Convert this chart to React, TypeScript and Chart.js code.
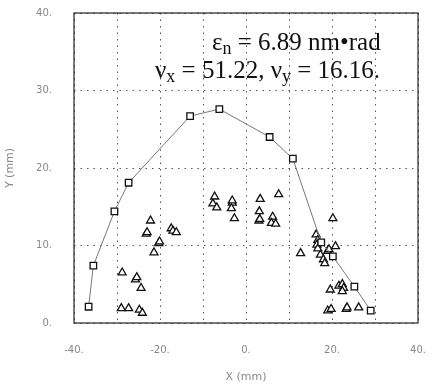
import React, { useEffect, useRef } from "react";
import { Chart, registerables } from "chart.js";

Chart.register(...registerables);

// Line series with square markers
const squareX = [-36.6, -35.5, -30.6, -27.3, -13.0, -6.2, 5.5, 10.9, 17.5, 20.2, 25.2, 29.0];
const squareY = [2.1, 7.4, 14.4, 18.1, 26.7, 27.6, 24.0, 21.2, 10.4, 8.6, 4.7, 1.6];

// Scatter points with triangle markers
const triX = [
  -22.2, -23.2, -23.0, -20.3, -20.1, -21.4, -17.4, -17.0, -16.2, -28.8, -25.7, -25.4, -24.4,
  -29.0, -27.3, -24.8, -24.1, -7.3, -7.7, -6.8, -3.2, -3.2, -3.4, -2.7, 3.3, 3.1, 3.0, 3.2,
  6.2, 5.9, 6.9, 7.6, 12.7, 16.3, 16.7, 16.5, 16.7, 19.0, 19.3, 20.8, 17.3, 18.0, 18.3, 20.2,
  19.6, 21.6, 22.4, 22.7, 22.4, 19.0, 19.8, 23.3, 23.5, 26.2,
];
const triY = [
  13.2, 11.5, 11.7, 10.3, 10.5, 9.1, 12.2, 11.9, 11.7, 6.5, 5.6, 5.9, 4.5,
  1.9, 1.9, 1.7, 1.3, 16.3, 15.4, 14.9, 15.5, 15.8, 14.8, 13.5, 16.0, 14.4, 13.2, 13.4,
  13.7, 12.9, 12.8, 16.6, 9.0, 11.4, 10.7, 10.1, 9.6, 9.3, 9.5, 9.9, 8.8, 8.2, 7.7, 13.5,
  4.3, 4.8, 5.0, 4.5, 4.1, 1.6, 1.8, 1.8, 2.0, 2.0,
];

const xTicks = [-40, -30, -20, -10, 0, 10, 20, 30, 40];
const xTickLabels = ["-40.", "", "-20.", "", "0.", "", "20.", "", "40."];
const yTicks = [0, 10, 20, 30, 40];
const yTickLabels = ["0.", "10.", "20.", "30.", "40."];

const xTitle = "X (mm)";
const yTitle = "Y (mm)";
const annotLine1 = { main: "ε", sub: "n", rest: " = 6.89 nm•rad" };
const annotLine2 = [
  { main: "ν", sub: "x", rest: " = 51.22, " },
  { main: "ν", sub: "y", rest: " = 16.16." },
];

const framePlugin = {
  id: "frameAndText",
  afterDraw(chart: any) {
    const { ctx, chartArea } = chart;
    ctx.save();
    ctx.strokeStyle = "#222";
    ctx.lineWidth = 1.2;
    ctx.strokeRect(chartArea.left, chartArea.top, chartArea.right - chartArea.left, chartArea.bottom - chartArea.top);

    const big = "25px 'Liberation Serif', 'DejaVu Serif', serif";
    const small = "18px 'Liberation Serif', 'DejaVu Serif', serif";
    ctx.fillStyle = "#111";
    ctx.textBaseline = "alphabetic";
    const drawPieces = (pieces: any[], x: number, y: number) => {
      let cx = x;
      for (const p of pieces) {
        ctx.font = big;
        ctx.fillText(p.main, cx, y);
        cx += ctx.measureText(p.main).width;
        ctx.font = small;
        ctx.fillText(p.sub, cx, y + 4);
        cx += ctx.measureText(p.sub).width;
        ctx.font = big;
        ctx.fillText(p.rest, cx, y);
        cx += ctx.measureText(p.rest).width;
      }
    };
    drawPieces([annotLine1], 212, 50);
    drawPieces(annotLine2, 155, 78);
    ctx.restore();
  },
};

export default function App() {
  const ref = useRef<HTMLCanvasElement | null>(null);
  useEffect(() => {
    document.body.style.margin = "0";
    const tickFont = { family: "'DejaVu Sans', sans-serif", size: 10 };
    const chart = new Chart(ref.current as HTMLCanvasElement, {
      type: "scatter",
      data: {
        datasets: [
          {
            type: "line",
            data: squareX.map((x, i) => ({ x, y: squareY[i] })),
            borderColor: "#777",
            borderWidth: 1,
            pointStyle: "rect",
            pointRadius: 4.6,
            pointBorderColor: "#111",
            pointBackgroundColor: "#fff",
            pointBorderWidth: 1.3,
            tension: 0,
            fill: false,
          },
          {
            type: "scatter",
            data: triX.map((x, i) => ({ x, y: triY[i] })),
            pointStyle: "triangle",
            pointRadius: 4.6,
            pointBorderColor: "#111",
            pointBackgroundColor: "#fff",
            pointBorderWidth: 1.3,
          },
        ],
      },
      options: {
        animation: false,
        responsive: false,
        layout: { padding: { top: 13, right: 16, left: 0, bottom: 0 } },
        plugins: { legend: { display: false }, tooltip: { enabled: false } },
        scales: {
          x: {
            type: "linear",
            min: -40,
            max: 40,
            afterBuildTicks: (s: any) => {
              s.ticks = xTicks.map((v) => ({ value: v }));
            },
            afterFit: (s: any) => {
              s.height = 64;
              s.paddingLeft = 0;
              s.paddingRight = 0;
            },
            ticks: {
              padding: 21,
              color: "#888",
              font: tickFont,
              maxRotation: 0,
              autoSkip: false,
              callback: (_v: any, i: number) => xTickLabels[i],
            },
            grid: { color: "#555", drawTicks: false, lineWidth: 1 },
            border: { display: false, dash: [1.5, 5] },
            title: { display: true, text: xTitle, color: "#888", font: { family: "'DejaVu Sans', sans-serif", size: 11 }, padding: { top: 4, bottom: 3 } },
          },
          y: {
            type: "linear",
            min: 0,
            max: 40,
            afterBuildTicks: (s: any) => {
              s.ticks = yTicks.map((v) => ({ value: v }));
            },
            afterFit: (s: any) => {
              s.width = 74;
              s.paddingTop = 0;
              s.paddingBottom = 0;
            },
            ticks: {
              padding: 22,
              color: "#888",
              font: tickFont,
              autoSkip: false,
              callback: (_v: any, i: number) => yTickLabels[i],
            },
            grid: { color: "#555", drawTicks: false, lineWidth: 1 },
            border: { display: false, dash: [1.5, 5] },
            title: { display: true, text: yTitle, color: "#888", font: { family: "'DejaVu Sans', sans-serif", size: 11 }, padding: { top: 4, bottom: 4 } },
          },
        },
      },
      plugins: [framePlugin],
    } as any);
    return () => chart.destroy();
  }, []);
  return (
    <div style={{ width: 434, height: 387 }}>
      <canvas ref={ref} width={434} height={387} style={{ display: "block" }} />
    </div>
  );
}
